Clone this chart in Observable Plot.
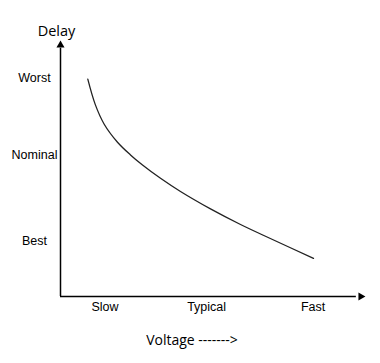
<!DOCTYPE html>
<html>
<head>
<meta charset="utf-8">
<script src="https://cdn.jsdelivr.net/npm/d3@7"></script>
<script src="https://cdn.jsdelivr.net/npm/@observablehq/plot@0.6"></script>
<style>
  html, body { margin: 0; padding: 0; background: #fff; }
</style>
</head>
<body>
<div id="chart"></div>
<script>
// Voltage (x) vs delay (y), arbitrary units 0..10
const curveVoltage = [0.895, 1.138, 1.433, 1.869, 2.295, 2.689, 3.279, 3.934, 4.918, 5.902, 6.951, 8.295];
const curveDelay   = [8.488, 7.504, 6.730, 6.027, 5.531, 5.137, 4.617, 4.102, 3.422, 2.813, 2.227, 1.488];

const xTickLabels = ["Slow", "Typical", "Fast"];
const xTickValues = [1.46, 4.79, 8.28];

const yTickLabels = ["Worst", "Nominal", "Best"];
const yTickValues = [8.52, 5.51, 2.15];

const xMax = 10, yMax = 10;

const curve = curveVoltage.map((v, i) => ({v, d: curveDelay[i]}));

const chart = Plot.plot({
  width: 380,
  height: 363,
  marginLeft: 60,
  marginRight: 15,
  marginTop: 40,
  marginBottom: 67,
  style: {fontFamily: "'Liberation Sans', Arial, sans-serif", fontSize: "12.5px", color: "#000", background: "#fff"},
  x: {domain: [0, xMax]},
  y: {domain: [0, yMax]},
  marks: [
    // axes lines
    Plot.ruleX([0], {y1: 0, y2: yMax - 0.3, stroke: "#000", strokeWidth: 1.5}),
    Plot.ruleY([0], {x1: 0, x2: xMax - 0.3, stroke: "#000", strokeWidth: 1.5}),
    // arrow heads
    Plot.dot([{x: 0, y: yMax}], {x: "x", y: "y", symbol: "triangle", r: 3, fill: "#000", stroke: "none", dy: 4.7}),
    Plot.dot([{x: xMax, y: 0}], {x: "x", y: "y", symbol: "triangle", r: 3, fill: "#000", stroke: "none", rotate: 90, dx: -4.7}),
    // tick labels
    Plot.axisY({ticks: yTickValues, tickFormat: (d) => yTickLabels[yTickValues.indexOf(d)],
      tickSize: 0, tickPadding: 26, textAnchor: "middle", label: null, fontSize: 12.5}),
    Plot.axisX({ticks: xTickValues, tickFormat: (d) => xTickLabels[xTickValues.indexOf(d)],
      tickSize: 0, tickPadding: 6, label: null, fontSize: 12.5}),
    // curve
    Plot.line(curve, {x: "v", y: "d", curve: "catmull-rom", stroke: "#222", strokeWidth: 1.3}),
    // titles
    Plot.text(["Delay"], {frameAnchor: "top-left", text: d => d, textAnchor: "middle", lineAnchor: "middle", dx: -4, dy: -9,
      fontFamily: "'Open Sans', sans-serif", fontSize: 14.5, fill: "#000"}),
    Plot.text(["Voltage ------->"], {frameAnchor: "bottom", text: d => d, textAnchor: "middle", lineAnchor: "middle", dx: -21, dy: 44,
      fontFamily: "'Open Sans', sans-serif", fontSize: 14, fill: "#000"})
  ]
});
document.getElementById("chart").appendChild(chart);
</script>
</body>
</html>
